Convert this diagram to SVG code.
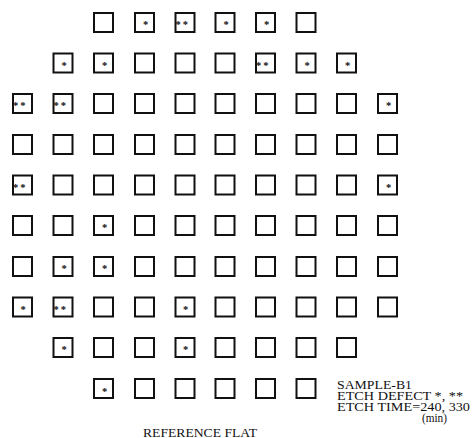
<svg xmlns="http://www.w3.org/2000/svg" width="473" height="438" viewBox="0 0 473 438">
<style>
.die{fill:#fff;stroke:#111;stroke-width:2}
.s{font-family:"Liberation Serif",serif;font-size:10.5px;font-weight:bold;fill:#111}
.s1{text-anchor:middle}
.s2{letter-spacing:2px}
.lbl{font-family:"Liberation Serif","Times New Roman",serif;font-size:11.5px;fill:#111}
</style>
<defs>
<rect id="sq" class="die" x="1" y="1" width="19" height="19"/>
</defs>
<rect width="473" height="438" fill="#fff"/>
<g id="connectors"></g>
<!-- Row 1 -->
<g id="r1c3" transform="translate(93,12)"><use href="#sq"/></g>
<g id="r1c4" transform="translate(134,12)"><use href="#sq"/><text class="s s1" x="11.5" y="16.4">*</text></g>
<g id="r1c5" transform="translate(174.5,12)"><use href="#sq"/><text class="s s2" x="1" y="16.4">**</text></g>
<g id="r1c6" transform="translate(214.5,12)"><use href="#sq"/><text class="s s1" x="11.5" y="16.4">*</text></g>
<g id="r1c7" transform="translate(255,12)"><use href="#sq"/><text class="s s1" x="11.5" y="16.4">*</text></g>
<g id="r1c8" transform="translate(295.5,12)"><use href="#sq"/></g>
<!-- Row 2 -->
<g id="r2c2" transform="translate(52.5,52.5)"><use href="#sq"/><text class="s s1" x="11.5" y="16.4">*</text></g>
<g id="r2c3" transform="translate(93,52.5)"><use href="#sq"/><text class="s s1" x="11.5" y="16.4">*</text></g>
<g id="r2c4" transform="translate(134,52.5)"><use href="#sq"/></g>
<g id="r2c5" transform="translate(174.5,52.5)"><use href="#sq"/></g>
<g id="r2c6" transform="translate(214.5,52.5)"><use href="#sq"/></g>
<g id="r2c7" transform="translate(255,52.5)"><use href="#sq"/><text class="s s2" x="1" y="16.4">**</text></g>
<g id="r2c8" transform="translate(295.5,52.5)"><use href="#sq"/><text class="s s1" x="11.5" y="16.4">*</text></g>
<g id="r2c9" transform="translate(336,52.5)"><use href="#sq"/><text class="s s1" x="11.5" y="16.4">*</text></g>
<!-- Row 3 -->
<g id="r3c1" transform="translate(12,93)"><use href="#sq"/><text class="s s2" x="1" y="16.4">**</text></g>
<g id="r3c2" transform="translate(52.5,93)"><use href="#sq"/><text class="s s2" x="1" y="16.4">**</text></g>
<g id="r3c3" transform="translate(93,93)"><use href="#sq"/></g>
<g id="r3c4" transform="translate(134,93)"><use href="#sq"/></g>
<g id="r3c5" transform="translate(174.5,93)"><use href="#sq"/></g>
<g id="r3c6" transform="translate(214.5,93)"><use href="#sq"/></g>
<g id="r3c7" transform="translate(255,93)"><use href="#sq"/></g>
<g id="r3c8" transform="translate(295.5,93)"><use href="#sq"/></g>
<g id="r3c9" transform="translate(336,93)"><use href="#sq"/></g>
<g id="r3c10" transform="translate(377,93)"><use href="#sq"/><text class="s s1" x="11.5" y="16.4">*</text></g>
<!-- Row 4 -->
<g id="r4c1" transform="translate(12,134)"><use href="#sq"/></g>
<g id="r4c2" transform="translate(52.5,134)"><use href="#sq"/></g>
<g id="r4c3" transform="translate(93,134)"><use href="#sq"/></g>
<g id="r4c4" transform="translate(134,134)"><use href="#sq"/></g>
<g id="r4c5" transform="translate(174.5,134)"><use href="#sq"/></g>
<g id="r4c6" transform="translate(214.5,134)"><use href="#sq"/></g>
<g id="r4c7" transform="translate(255,134)"><use href="#sq"/></g>
<g id="r4c8" transform="translate(295.5,134)"><use href="#sq"/></g>
<g id="r4c9" transform="translate(336,134)"><use href="#sq"/></g>
<g id="r4c10" transform="translate(377,134)"><use href="#sq"/></g>
<!-- Row 5 -->
<g id="r5c1" transform="translate(12,174.5)"><use href="#sq"/><text class="s s2" x="1" y="16.4">**</text></g>
<g id="r5c2" transform="translate(52.5,174.5)"><use href="#sq"/></g>
<g id="r5c3" transform="translate(93,174.5)"><use href="#sq"/></g>
<g id="r5c4" transform="translate(134,174.5)"><use href="#sq"/></g>
<g id="r5c5" transform="translate(174.5,174.5)"><use href="#sq"/></g>
<g id="r5c6" transform="translate(214.5,174.5)"><use href="#sq"/></g>
<g id="r5c7" transform="translate(255,174.5)"><use href="#sq"/></g>
<g id="r5c8" transform="translate(295.5,174.5)"><use href="#sq"/></g>
<g id="r5c9" transform="translate(336,174.5)"><use href="#sq"/></g>
<g id="r5c10" transform="translate(377,174.5)"><use href="#sq"/><text class="s s1" x="11.5" y="16.4">*</text></g>
<!-- Row 6 -->
<g id="r6c1" transform="translate(12,215)"><use href="#sq"/></g>
<g id="r6c2" transform="translate(52.5,215)"><use href="#sq"/></g>
<g id="r6c3" transform="translate(93,215)"><use href="#sq"/><text class="s s1" x="11.5" y="16.4">*</text></g>
<g id="r6c4" transform="translate(134,215)"><use href="#sq"/></g>
<g id="r6c5" transform="translate(174.5,215)"><use href="#sq"/></g>
<g id="r6c6" transform="translate(214.5,215)"><use href="#sq"/></g>
<g id="r6c7" transform="translate(255,215)"><use href="#sq"/></g>
<g id="r6c8" transform="translate(295.5,215)"><use href="#sq"/></g>
<g id="r6c9" transform="translate(336,215)"><use href="#sq"/></g>
<g id="r6c10" transform="translate(377,215)"><use href="#sq"/></g>
<!-- Row 7 -->
<g id="r7c1" transform="translate(12,256)"><use href="#sq"/></g>
<g id="r7c2" transform="translate(52.5,256)"><use href="#sq"/><text class="s s1" x="11.5" y="16.4">*</text></g>
<g id="r7c3" transform="translate(93,256)"><use href="#sq"/><text class="s s1" x="11.5" y="16.4">*</text></g>
<g id="r7c4" transform="translate(134,256)"><use href="#sq"/></g>
<g id="r7c5" transform="translate(174.5,256)"><use href="#sq"/></g>
<g id="r7c6" transform="translate(214.5,256)"><use href="#sq"/></g>
<g id="r7c7" transform="translate(255,256)"><use href="#sq"/></g>
<g id="r7c8" transform="translate(295.5,256)"><use href="#sq"/></g>
<g id="r7c9" transform="translate(336,256)"><use href="#sq"/></g>
<g id="r7c10" transform="translate(377,256)"><use href="#sq"/></g>
<!-- Row 8 -->
<g id="r8c1" transform="translate(12,296.5)"><use href="#sq"/><text class="s s1" x="11" y="16.4">*</text></g>
<g id="r8c2" transform="translate(52.5,296.5)"><use href="#sq"/><text class="s s2" x="1" y="16.4">**</text></g>
<g id="r8c3" transform="translate(93,296.5)"><use href="#sq"/></g>
<g id="r8c4" transform="translate(134,296.5)"><use href="#sq"/></g>
<g id="r8c5" transform="translate(174.5,296.5)"><use href="#sq"/><text class="s s1" x="11" y="16.4">*</text></g>
<g id="r8c6" transform="translate(214.5,296.5)"><use href="#sq"/></g>
<g id="r8c7" transform="translate(255,296.5)"><use href="#sq"/></g>
<g id="r8c8" transform="translate(295.5,296.5)"><use href="#sq"/></g>
<g id="r8c9" transform="translate(336,296.5)"><use href="#sq"/></g>
<g id="r8c10" transform="translate(377,296.5)"><use href="#sq"/></g>
<!-- Row 9 -->
<g id="r9c2" transform="translate(52.5,337)"><use href="#sq"/><text class="s s1" x="11.5" y="16.4">*</text></g>
<g id="r9c3" transform="translate(93,337)"><use href="#sq"/></g>
<g id="r9c4" transform="translate(134,337)"><use href="#sq"/></g>
<g id="r9c5" transform="translate(174.5,337)"><use href="#sq"/><text class="s s1" x="11" y="16.4">*</text></g>
<g id="r9c6" transform="translate(214.5,337)"><use href="#sq"/></g>
<g id="r9c7" transform="translate(255,337)"><use href="#sq"/></g>
<g id="r9c8" transform="translate(295.5,337)"><use href="#sq"/></g>
<g id="r9c9" transform="translate(336,337)"><use href="#sq"/></g>
<!-- Row 10 -->
<g id="r10c3" transform="translate(93,378)"><use href="#sq"/><text class="s s1" x="11.5" y="16.9">*</text></g>
<g id="r10c4" transform="translate(134,378)"><use href="#sq"/></g>
<g id="r10c5" transform="translate(174.5,378)"><use href="#sq"/></g>
<g id="r10c6" transform="translate(214.5,378)"><use href="#sq"/></g>
<g id="r10c7" transform="translate(255,378)"><use href="#sq"/></g>
<g id="r10c8" transform="translate(295.5,378)"><use href="#sq"/></g>
<!-- Legend -->
<g id="legend">
<text class="lbl" x="337" y="389" textLength="75" lengthAdjust="spacingAndGlyphs">SAMPLE-B1</text>
<text class="lbl" x="337" y="400" textLength="126" lengthAdjust="spacingAndGlyphs">ETCH DEFECT *, **</text>
<text class="lbl" x="337" y="411" textLength="133" lengthAdjust="spacingAndGlyphs">ETCH TIME=240, 330</text>
<text class="lbl" x="422" y="422" textLength="25" lengthAdjust="spacingAndGlyphs">(min)</text>
</g>
<g id="reference-flat">
<text class="lbl" x="143" y="436.5" textLength="114" lengthAdjust="spacingAndGlyphs">REFERENCE FLAT</text>
</g>
</svg>
